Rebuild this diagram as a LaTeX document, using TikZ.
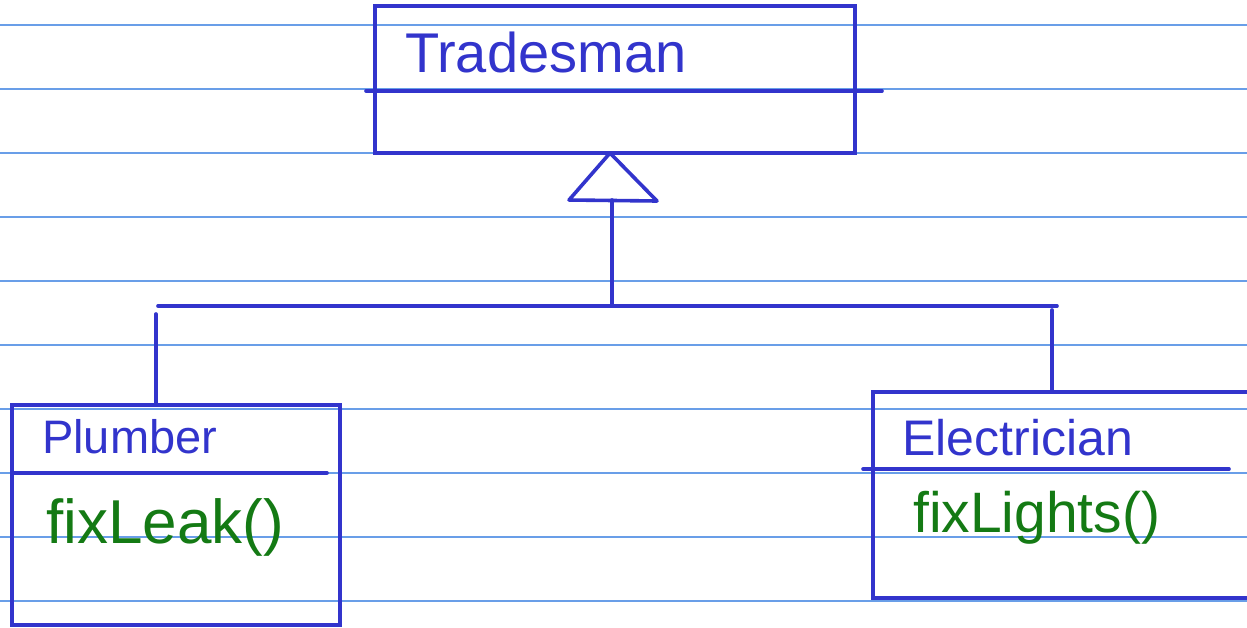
\documentclass[tikz,border=0pt]{standalone}
\usepackage{fontspec}
\setmainfont{Liberation Sans}
\usetikzlibrary{positioning}

\definecolor{penblue}{RGB}{50,52,204}
\definecolor{pengreen}{RGB}{20,122,20}
\definecolor{ruled}{RGB}{105,158,232}

\begin{document}
\begin{tikzpicture}[
    x=1pt, y=-1pt,
    classbox/.style={rectangle, draw=penblue, line width=3.6pt, inner sep=0pt,
                     outer sep=0pt, anchor=north west},
    classname/.style={anchor=base west, inner sep=0pt, text=penblue},
    method/.style={anchor=base west, inner sep=0pt, text=pengreen},
    pen/.style={draw=penblue, line width=3.6pt, line cap=round, line join=round},
    ruleline/.style={draw=ruled, line width=1.5pt}
]
    \clip (0,0) rectangle (1247,627);
    \fill[white] (0,0) rectangle (1247,627);

    % ruled paper
    \foreach \y in {25,89,...,601}
        \draw[ruleline] (0,\y) -- (1247,\y);

    % Tradesman (top)
    \node[classbox, minimum width=480pt, minimum height=147pt] (trades) at (375,6) {};
    \draw[pen] (366,91) -- (882,91);
    \node[classname, font=\fontsize{56}{60}\selectfont] (tradesname) at (405,72) {Tradesman};

    % Plumber (left)
    \node[classbox, minimum width=328pt, minimum height=220pt] (plumber) at (12,405) {};
    \draw[pen] (12,473) -- (327,473);
    \node[classname, font=\fontsize{47}{50}\selectfont] (plumbername) at (42,453) {Plumber};
    \node[method, font=\fontsize{62}{66}\selectfont] (fixleak) at (46,543) {fixLeak()};

    % Electrician (right, runs off the page)
    \node[classbox, minimum width=420pt, minimum height=206pt] (elec) at (873,392) {};
    \draw[pen] (863,469) -- (1229,469);
    \node[classname, font=\fontsize{50}{54}\selectfont] (elecname) at (902,455) {Electrician};
    \node[method, font=\fontsize{57}{60}\selectfont] (fixlights) at (913,532) {fixLights()};

    % generalisation arrow
    \coordinate (tip) at (610,153);
    \coordinate (base) at (612,200);
    \coordinate (joint) at (612,306);
    \coordinate (barL) at (158,306);
    \coordinate (barR) at (1057,306);
    \coordinate (dropL) at (156,314);
    \coordinate (dropR) at (1052,310);
    \draw[pen] (tip) -- (569,200) -- (657,201) -- cycle;
    \draw[pen] (base) -- (joint);
    \draw[pen] (barL) -- (barR);
    \draw[pen] (dropL) -- (dropL |- plumber.north);
    \draw[pen] (dropR) -- (dropR |- elec.north);
\end{tikzpicture}
\end{document}
